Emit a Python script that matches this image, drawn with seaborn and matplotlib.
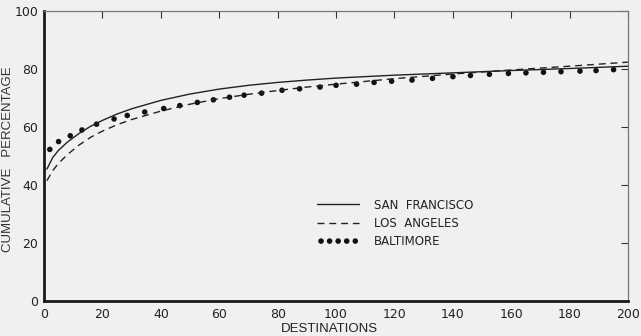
import numpy as np
import pandas as pd
import matplotlib
matplotlib.use("Agg")
import matplotlib.pyplot as plt
import seaborn as sns

# curve samples
sf_x = [1, 3, 5, 8, 12, 16, 20, 25, 30, 40, 50, 60, 70, 80, 90, 100, 120, 140, 160, 180, 200]
sf_y = [45.5, 49.5, 52.0, 54.8, 57.8, 60.3, 62.3, 64.5, 66.3, 69.2, 71.4, 73.1, 74.4, 75.4, 76.2, 76.9, 77.9, 78.7, 79.5, 80.2, 81.0]

la_x = [1, 3, 5, 8, 12, 16, 20, 25, 30, 40, 50, 60, 70, 80, 90, 100, 120, 140, 160, 180, 200]
la_y = [41.5, 45.0, 47.5, 50.5, 53.8, 56.5, 58.6, 60.8, 62.6, 65.5, 67.9, 69.8, 71.3, 72.6, 73.8, 74.8, 76.7, 78.3, 79.7, 81.0, 82.4]

balt_x = [2, 5, 9, 13, 18, 24, 28.5, 34.5, 41, 46.5, 52.5, 58, 63.5, 68.5, 74.5, 81.5, 87.5, 94.5,
          100, 107, 113, 119, 126, 133, 140, 146, 152.5, 159, 165, 171, 177, 183.5, 189, 195]
balt_y = [52.3, 55.0, 57.0, 59.0, 61.0, 62.8, 64.0, 65.2, 66.4, 67.4, 68.5, 69.4, 70.3, 71.0, 71.7, 72.7,
          73.2, 73.8, 74.4, 74.8, 75.4, 75.8, 76.2, 76.8, 77.4, 77.8, 78.2, 78.5, 78.7, 78.9, 79.1, 79.3, 79.5, 79.8]

x_ticks = [0, 20, 40, 60, 80, 100, 120, 140, 160, 180, 200]
y_ticks = [0, 20, 40, 60, 80, 100]

sns.set_style("white")
plt.rcParams["font.family"] = ["Liberation Sans Narrow", "DejaVu Sans"]
bg = "#f0f0f0"

fig = plt.figure(figsize=(6.41, 3.36), dpi=100, facecolor=bg)
ax = fig.add_axes([0.0686, 0.104, 0.9114, 0.863])
ax.set_facecolor(bg)

sns.lineplot(x=sf_x, y=sf_y, ax=ax, color="#222222", linewidth=1.0, label="SAN  FRANCISCO")
sns.lineplot(x=la_x, y=la_y, ax=ax, color="#222222", linewidth=1.0, linestyle=(0, (5, 3.5)),
             label="LOS  ANGELES")
sns.scatterplot(x=balt_x, y=balt_y, ax=ax, color="#111111", s=16, edgecolor="none", label="BALTIMORE")

ax.set_xlim(0, 200)
ax.set_ylim(0, 100)
ax.set_xticks(x_ticks)
ax.set_yticks(y_ticks)
ax.tick_params(direction="in", length=5, width=0.8, top=True, right=True, colors="#333333",
               labelsize=9, labelcolor="#222222", pad=4)
ax.tick_params(axis="x", pad=5)

for side in ["left", "bottom"]:
    ax.spines[side].set_linewidth(2.0)
    ax.spines[side].set_color("#1a1a1a")
for side in ["top", "right"]:
    ax.spines[side].set_linewidth(0.9)
    ax.spines[side].set_color("#777777")

ax.set_xlabel("DESTINATIONS", fontsize=9.5, color="#222222", family=["Liberation Sans", "DejaVu Sans"])
ax.set_ylabel("CUMULATIVE   PERCENTAGE", fontsize=9.5, color="#333333",
              family=["Liberation Sans", "DejaVu Sans"])
ax.xaxis.set_label_coords(0.488, -0.075)
ax.yaxis.set_label_coords(-0.052, 0.49)

leg = ax.legend(loc="upper left", bbox_to_anchor=(0.45, 0.39), frameon=False, fontsize=8.5,
                handlelength=3.5, handletextpad=1.3, labelspacing=0.45, scatterpoints=5,
                scatteryoffsets=[0.5])
for t in leg.get_texts():
    t.set_color("#222222")

fig.savefig("out.png", dpi=100, facecolor=bg)
